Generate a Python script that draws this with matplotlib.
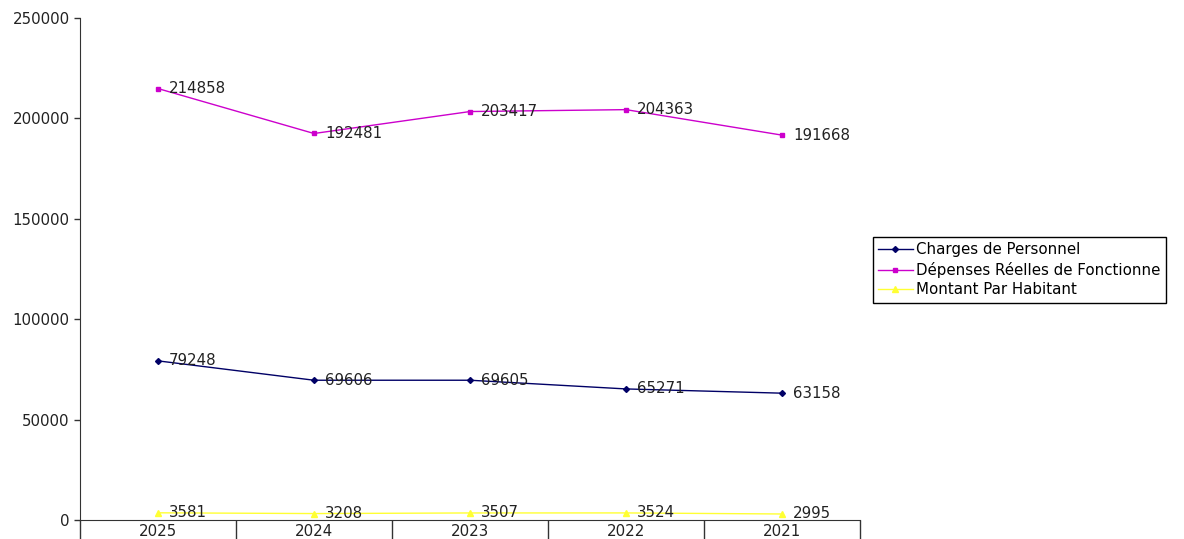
import matplotlib
matplotlib.use('Agg')
import matplotlib.pyplot as plt
from matplotlib.ticker import FixedLocator

# Données
years = ['2025', '2024', '2023', '2022', '2021']
charges = [79248, 69606, 69605, 65271, 63158]
depenses = [214858, 192481, 203417, 204363, 191668]
montant = [3581, 3208, 3507, 3524, 2995]

plt.rcParams['font.family'] = ['DejaVu Sans']
plt.rcParams['font.size'] = 10.8

fig = plt.figure(figsize=(11.84, 5.39), dpi=100)
ax = fig.add_axes([80 / 1184, 19 / 539, 780 / 1184, 502 / 539])

x = list(range(len(years)))
series = [
    (charges, 'Charges de Personnel', '#000066', 'D', 3),
    (depenses, 'Dépenses Réelles de Fonctionne', '#cc00cc', 's', 3.5),
    (montant, 'Montant Par Habitant', '#ffff33', '^', 4),
]
for vals, label, color, marker, ms in series:
    ax.plot(x, vals, color=color, lw=1, marker=marker, ms=ms, label=label)
    for xi, v in zip(x, vals):
        ax.annotate(str(v), (xi, v), xytext=(8, 0), textcoords='offset points',
                    va='center', ha='left', fontsize=10.8, color='#222222')

ax.set_xlim(-0.5, len(years) - 0.5)
ax.set_ylim(0, 250000)
ax.set_yticks(range(0, 250001, 50000))
ax.set_xticks(x)
ax.set_xticklabels(years)
ax.xaxis.set_minor_locator(FixedLocator([i - 0.5 for i in range(len(years) + 1)]))
ax.tick_params(axis='x', which='major', length=0, pad=3, labelsize=10.8, labelcolor='#222222')
ax.tick_params(axis='x', which='minor', length=20, width=1, color='#333333')
ax.tick_params(axis='y', length=4, width=1, labelsize=10.8, color='#333333', labelcolor='#222222')
ax.spines['top'].set_visible(False)
ax.spines['right'].set_visible(False)
for s in ['left', 'bottom']:
    ax.spines[s].set_color('#333333')

leg = fig.legend(loc='upper left', bbox_to_anchor=(873 / 1184, 1 - 237 / 539),
                 fancybox=False, edgecolor='black', framealpha=1, fontsize=10.8,
                 handlelength=2.3, handletextpad=0.25, borderpad=0.35, labelspacing=0.3,
                 borderaxespad=0)
leg.get_frame().set_linewidth(1)

fig.savefig('out.png', dpi=100)
